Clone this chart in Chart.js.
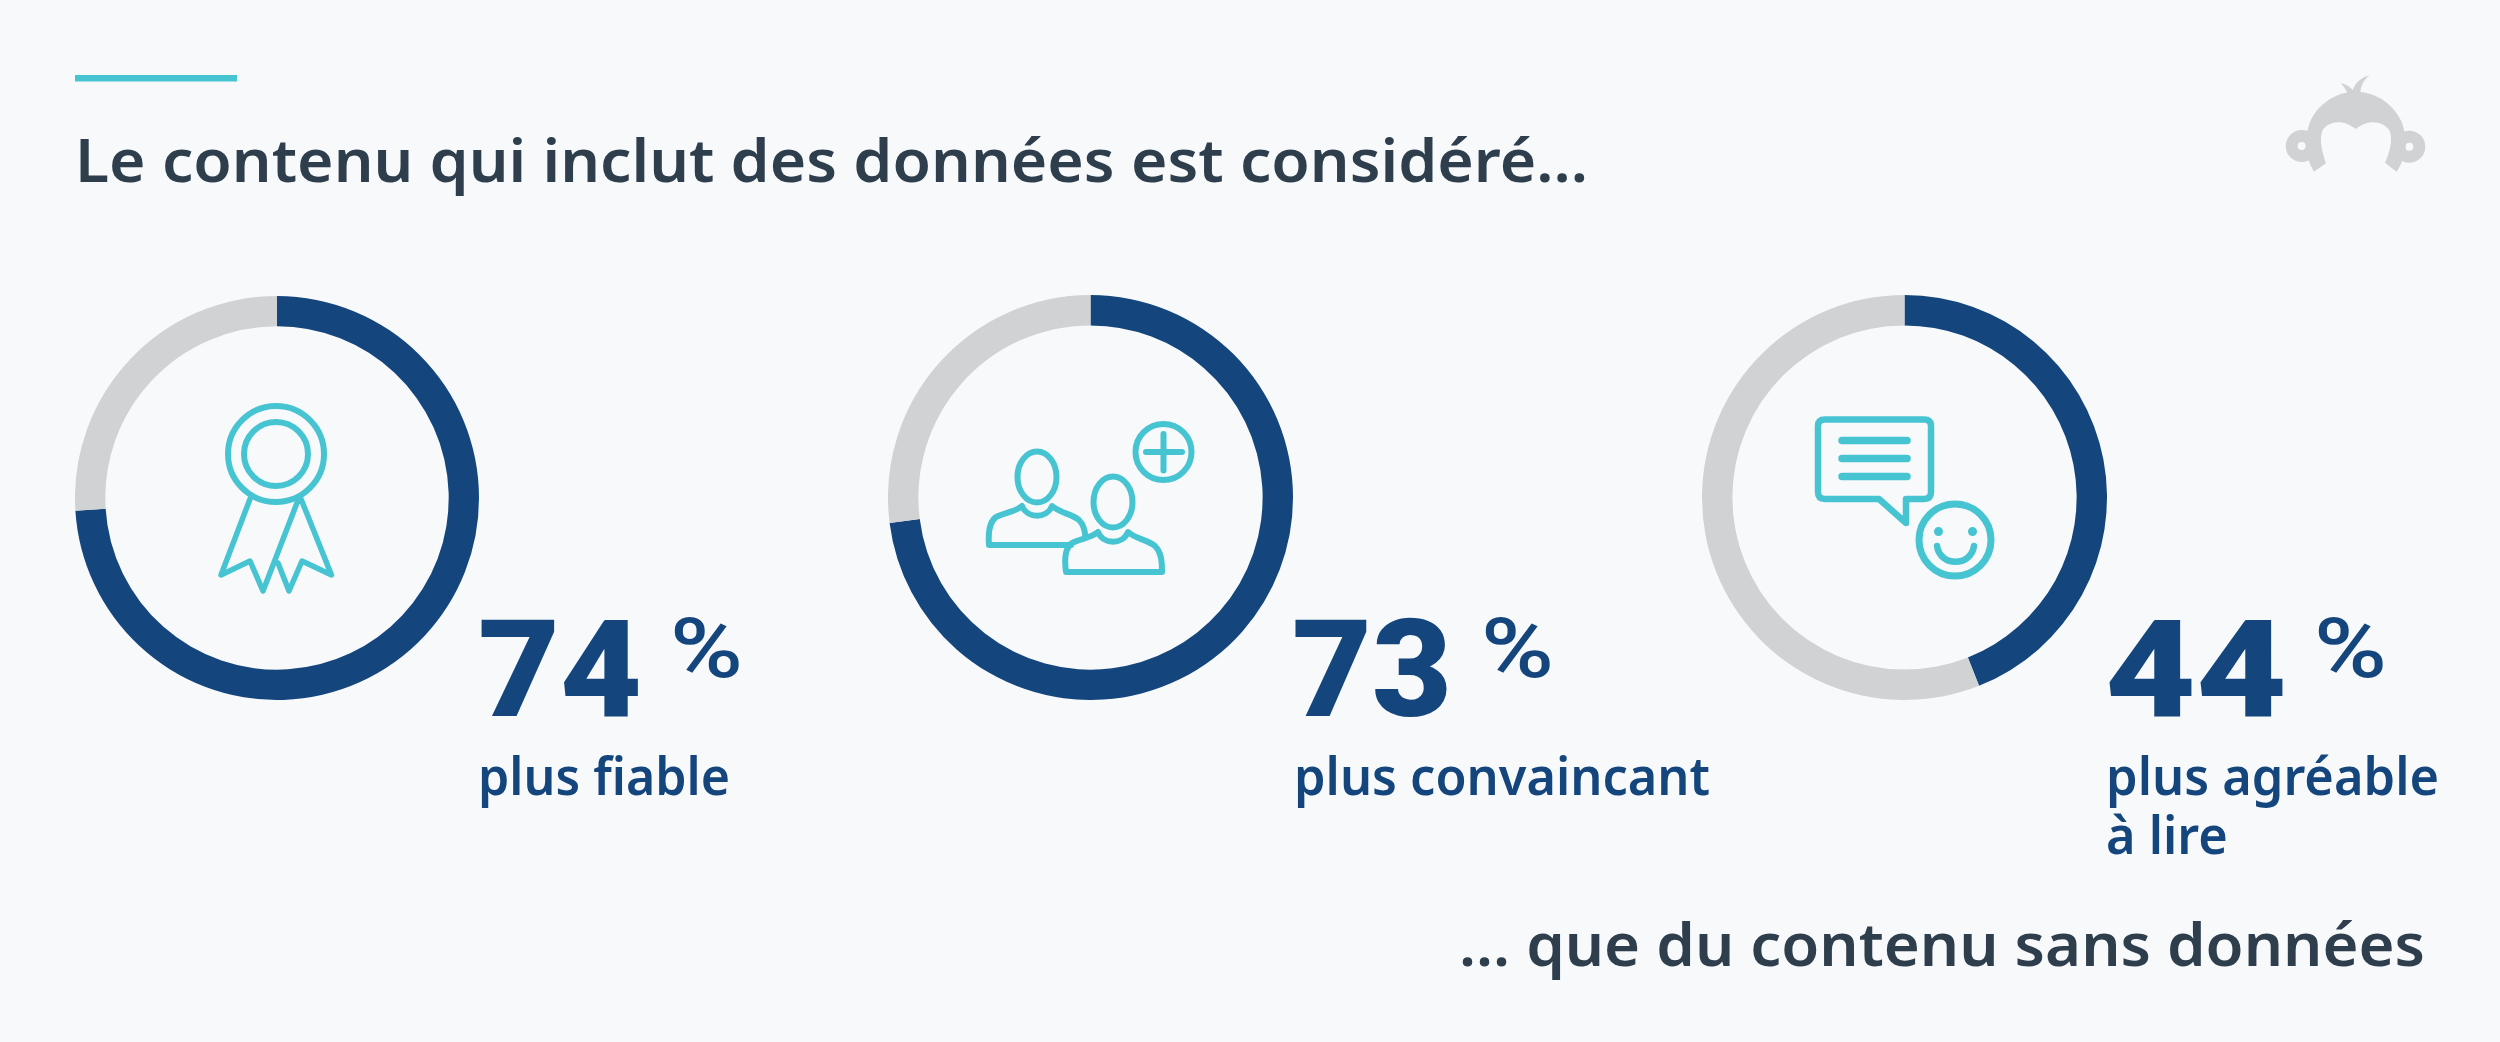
<!DOCTYPE html>
<html lang="fr"><head><meta charset="utf-8"><title>Contenu avec données</title>
<script src="https://cdn.jsdelivr.net/npm/chart.js@4"></script>
<style>
html,body{margin:0;padding:0;background:#f7f9fb;}
#stage{position:relative;width:2500px;height:1042px;overflow:hidden;background:#f7f9fb;}
#stage canvas{position:absolute;top:295px;width:405px;height:405px;}
#overlay{position:absolute;left:0;top:0;width:2500px;height:1042px;}
.ico{fill:none;stroke:#47c4d2;stroke-linecap:round;stroke-linejoin:round;}
text{font-family:"Noto Sans",sans-serif;}
.h{font-size:60px;font-weight:600;fill:#2f3e4d;}
.n{font-family:Roboto,sans-serif;font-size:136px;font-weight:900;fill:#14467d;}
.p{font-family:Roboto,sans-serif;font-size:84px;font-weight:500;fill:#14467d;}
.lbl{position:absolute;top:745px;font-family:"Noto Sans",sans-serif;font-size:53px;line-height:59px;font-weight:600;color:#14467d;transform-origin:0 0;white-space:normal;}
</style></head><body>
<div id="stage">
<canvas id="c0" width="404" height="404" style="left:75px;top:296px;width:404px;height:404px"></canvas>
<canvas id="c1" width="405" height="405" style="left:888px"></canvas>
<canvas id="c2" width="405" height="405" style="left:1702px"></canvas>
<svg id="overlay" viewBox="0 0 2500 1042" xmlns="http://www.w3.org/2000/svg">
<rect x="75" y="75" width="162" height="6.5" fill="#47c4d2"/>
<!-- ribbon -->
<g class="ico" stroke-width="6">
<circle cx="276" cy="454" r="48"/><circle cx="276" cy="454" r="32"/>
<path d="M250 499L221 575L250 561L263 591L298.500 499M301 499L331.500 575L302 561L289 591L278 563" stroke-width="5.500"/>
</g>
<!-- people -->
<g class="ico" stroke-width="6">
<circle cx="1163.500" cy="452" r="28"/><path d="M1146 452H1182M1163.500 434V470.500"/>
<ellipse cx="1037" cy="477" rx="19.500" ry="25.500"/>
<path d="M1071 545H989C988 532 989 522 996 517C1003 513 1015 512 1022 506C1027 519 1047 519 1052 506C1060 513 1072 514 1079 520C1084 525 1085 530 1085.500 537"/>
<ellipse cx="1113" cy="502" rx="19.500" ry="25.500"/>
<path d="M1066 572C1064 558 1065 548 1072 543C1079 539 1091 538 1098 532C1103 545 1123 545 1128 532C1136 539 1148 540 1155 546C1161 552 1162 560 1162 572Z"/>
</g>
<!-- speech -->
<g class="ico" stroke-width="6.500">
<path d="M1879 499H1825Q1818 499 1818 492V426Q1818 419.500 1825 419.500H1924Q1931 419.500 1931 426V492Q1931 499 1924 499H1906V523Z"/>
<path d="M1842 440.500H1907M1842 458.500H1907M1842 476.500H1907" stroke-width="7.500"/>
<circle cx="1955" cy="540" r="36" stroke-width="7"/>
<path d="M1937 546C1940 567 1971 567 1974 546"/>
<circle cx="1938.500" cy="531.500" r="3" fill="#47c4d2" stroke-width="3"/>
<circle cx="1972.500" cy="531.500" r="3" fill="#47c4d2" stroke-width="3"/>
</g>
<!-- logo -->
<g transform="translate(2260 50) scale(.3333)" fill="#d1d2d4">
<path fill-rule="evenodd" d="M125 240A48 48 0 1 0 125.100 336A48 48 0 1 0 125 240ZM125 276A12 12 0 1 1 124.900 300A12 12 0 1 1 125 276Z"/>
<path fill-rule="evenodd" d="M448 242A48 48 0 1 1 447.900 338A48 48 0 1 1 448 242ZM448 278A12 12 0 1 0 448.100 302A12 12 0 1 0 448 278Z"/>
<path d="M162 365L198 340C186 305 178 270 186 245C196 220 240 200 287 237C335 200 378 220 390 245C398 270 390 305 375 338L410 365C440 320 445 270 425 215C400 160 345 125 287 125C230 125 175 160 150 215C130 270 135 320 162 365Z"/>
<path d="M243 100C258 102 275 112 285 130H262C258 118 250 108 243 100Z"/>
<path d="M277 128C280 105 298 85 328 75C310 92 302 108 301 130Z"/>
</g>
</svg>
</div>
<script>
const categories = ["plus fiable", "plus convaincant", "plus agréable à lire"];
const withData = [74, 73, 44];
const withoutRemainder = [26, 27, 56];
const titleText = "Le contenu qui inclut des données est considéré...";
const footerText = "... que du contenu sans données";

const colors = ["#14467d", "#d1d2d4"];
categories.forEach((c, i) => {
  new Chart(document.getElementById("c" + i), {
    type: "doughnut",
    data: { labels: [c, "reste"], datasets: [{ data: [withData[i], withoutRemainder[i]], backgroundColor: colors, borderWidth: 0, hoverOffset: 0 }] },
    options: { responsive: false, animation: false, cutout: "85%", layout: { padding: 0 },
      plugins: { legend: { display: false }, tooltip: { enabled: false } } }
  });
});

const NS = "http://www.w3.org/2000/svg";
const overlay = document.getElementById("overlay");
const stage = document.getElementById("stage");
function addText(str, cls, x, y, w) {
  const t = document.createElementNS(NS, "text");
  t.textContent = str; t.setAttribute("class", cls);
  t.setAttribute("x", x); t.setAttribute("y", y);
  if (w) { t.setAttribute("textLength", w); t.setAttribute("lengthAdjust", "spacingAndGlyphs"); }
  overlay.appendChild(t);
}
addText(titleText, "h", 75, 182, 1513);
addText(footerText, "h", 1459, 966, 966);
const numX = [478, 1292, 2105], numW = [164, 160, 182], pctX = [670, 1481, 2314], lblX = [478, 1294, 2106], lblW = [252, 416, 333], lblBox = [560, 560, 372];
withData.forEach((v, i) => {
  addText(String(v), "n", numX[i], 716, numW[i]);
  addText("%", "p", pctX[i], 677, 73);
  const d = document.createElement("div");
  d.className = "lbl"; d.textContent = categories[i]; d.style.left = lblX[i] + "px"; d.style.width = lblBox[i] + "px";
  stage.appendChild(d);
  const r = document.createRange(); r.selectNodeContents(d);
  const first = r.getClientRects()[0];
  d.style.transform = "scaleX(" + (lblW[i] / first.width) + ")";
});
</script>
</body></html>
